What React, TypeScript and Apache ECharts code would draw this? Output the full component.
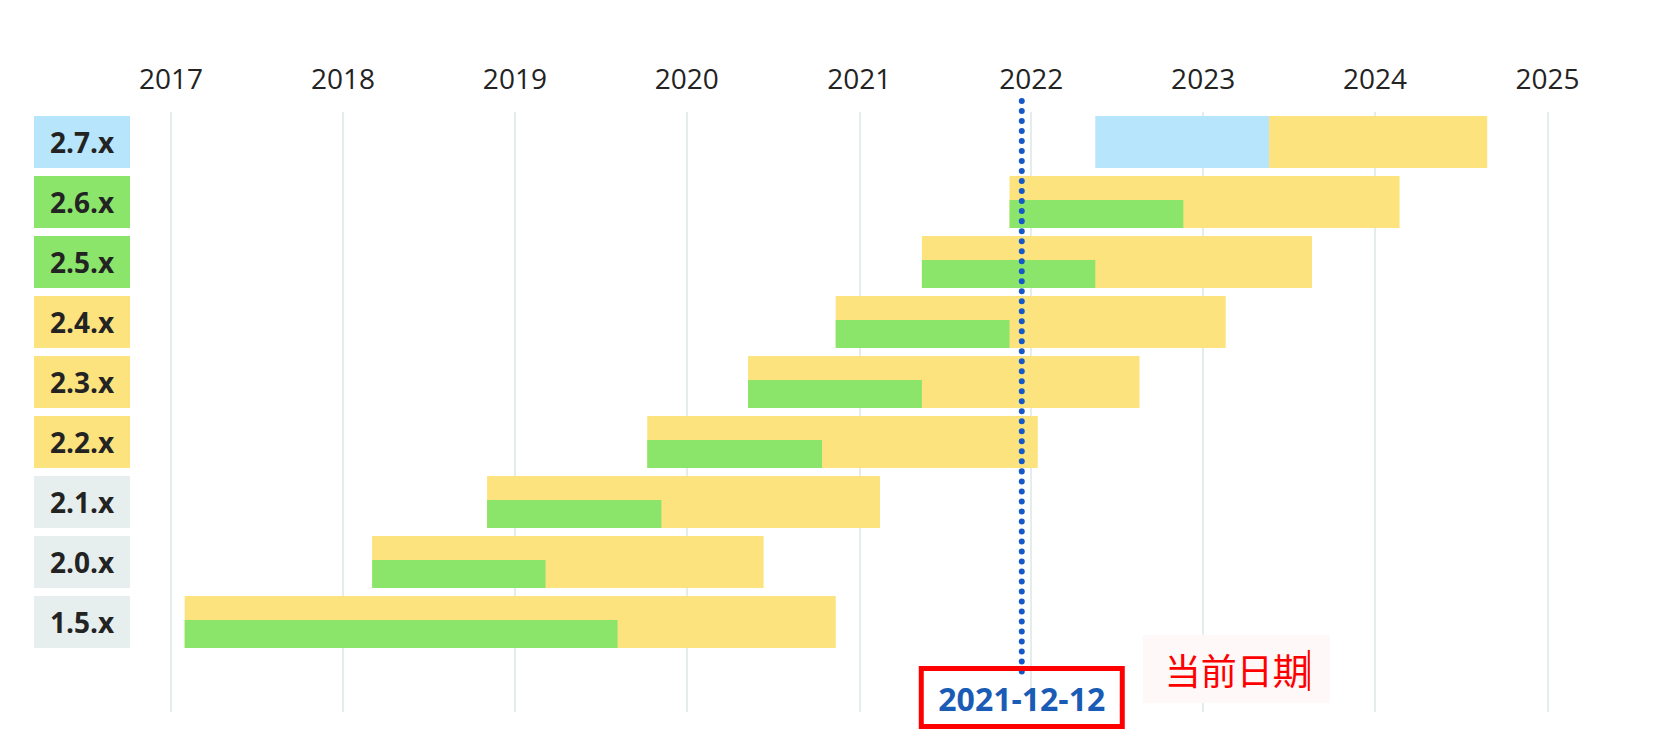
import React, { useEffect, useRef } from "react";
import * as echarts from "echarts";

// ---------- data ----------
const versions = ["2.7.x", "2.6.x", "2.5.x", "2.4.x", "2.3.x", "2.2.x", "2.1.x", "2.0.x", "1.5.x"];
const releaseDates = ["2022-05-17", "2021-11-16", "2021-05-14", "2020-11-12", "2020-05-10", "2019-10-09", "2018-11-03", "2018-03-04", "2017-01-30"];
const ossSupportEnd = ["2023-05-21", "2022-11-20", "2022-05-17", "2021-11-16", "2021-05-14", "2020-10-14", "2019-11-08", "2019-03-07", "2019-08-07"];
const commercialSupportEnd = ["2024-08-26", "2024-02-22", "2023-08-20", "2023-02-18", "2022-08-19", "2022-01-15", "2021-02-14", "2020-06-12", "2020-11-12"];
const versionStatus = ["planned", "supported", "supported", "commercial", "commercial", "commercial", "eol", "eol", "eol"];
const yearTickLabels = ["2017", "2018", "2019", "2020", "2021", "2022", "2023", "2024", "2025"];
const currentDate = "2021-12-12";
const currentDateCaption = "当前日期";

// ---------- styles ----------
const C = {
  blue: "#b7e6fc",
  green: "#8be56b",
  yellow: "#fce37e",
  gray: "#e6efee",
  grid: "#e4eded",
  text: "#232323",
  dot: "#1558c8",
  dateText: "#1a5bb5",
  red: "#ff0000",
};
const statusColor: Record<string, string> = {
  planned: C.blue,
  supported: C.green,
  commercial: C.yellow,
  eol: C.gray,
};

export default function App() {
  const ref = useRef<HTMLDivElement>(null);

  useEffect(() => {
    if (!ref.current) return;
    const chart = echarts.init(ref.current, undefined, { renderer: "svg" });
    const parse = (s: string) => {
      const [y, m, d] = s.split("-").map(Number);
      return new Date(y, m - 1, d).getTime();
    };
    const minT = parse(yearTickLabels[0] + "-01-01");
    const maxT = parse(yearTickLabels[yearTickLabels.length - 1] + "-01-01");
    const DAY = 24 * 3600 * 1000;

    const data = versions.map((v, i) => [v, parse(releaseDates[i]), parse(ossSupportEnd[i]), parse(commercialSupportEnd[i])]);

    const rich: Record<string, any> = {};
    Object.keys(statusColor).forEach((k) => {
      rich[k] = {
        backgroundColor: statusColor[k],
        width: 96,
        height: 52,
        lineHeight: 52,
        align: "center",
        verticalAlign: "middle",
        fontSize: 28,
        fontWeight: "bold",
        fontFamily: "Open Sans",
        color: C.text,
      };
    });

    chart.setOption({
      animation: false,
      grid: { left: 171, right: 110.5, top: 112, height: 600 },
      xAxis: {
        type: "time",
        position: "top",
        min: minT,
        max: maxT,
        splitNumber: 8,
        minInterval: 365 * DAY,
        maxInterval: 366 * DAY,
        axisLine: { show: false },
        axisTick: { show: false },
        axisLabel: {
          showMinLabel: true,
          showMaxLabel: true,
          margin: 20,
          fontSize: 28,
          fontFamily: "Open Sans",
          color: C.text,
          formatter: (v: number) => String(new Date(v).getFullYear()),
        },
        splitLine: { show: true, lineStyle: { color: C.grid, width: 2 } },
      },
      yAxis: {
        type: "category",
        inverse: true,
        data: [...versions, ""],
        axisLine: { show: false },
        axisTick: { show: false },
        splitLine: { show: false },
        axisLabel: {
          margin: 41,
          rich,
          formatter: (v: string) => {
            const i = versions.indexOf(v);
            return i < 0 ? "" : `{${versionStatus[i]}|${v}}`;
          },
        },
      },
      series: [
        {
          type: "custom",
          dimensions: [
            { name: "version", type: "ordinal" },
            { name: "release", type: "time" },
            { name: "oss", type: "time" },
            { name: "end", type: "time" },
          ],
          encode: { x: [1, 2, 3], y: 0 },
          data,
          renderItem: (params: any, api: any) => {
            const y = api.value(0);
            const s = api.value(1);
            const o = api.value(2);
            const e = api.value(3);
            const band = api.size([0, 1])[1];
            const h = (band * 52) / 60;
            const p0 = api.coord([s, y]);
            const pO = api.coord([o, y]);
            const pE = api.coord([e, y]);
            const top = p0[1] - h / 2;
            const status = versionStatus[params.dataIndex];
            const children: any[] = [];
            if (status === "planned") {
              children.push({ type: "rect", shape: { x: p0[0], y: top, width: pO[0] - p0[0], height: h }, style: { fill: C.blue } });
              children.push({ type: "rect", shape: { x: pO[0], y: top, width: pE[0] - pO[0], height: h }, style: { fill: C.yellow } });
            } else {
              const gTop = top + (h * 24) / 52;
              children.push({ type: "rect", shape: { x: p0[0], y: top, width: pE[0] - p0[0], height: h }, style: { fill: C.yellow } });
              children.push({ type: "rect", shape: { x: p0[0], y: gTop, width: pO[0] - p0[0], height: top + h - gTop }, style: { fill: C.green } });
            }
            return { type: "group", children };
          },
        },
      ],
    });

    const xPx = chart.convertToPixel({ xAxisIndex: 0 }, parse(currentDate)) as number;
    chart.setOption({
      graphic: [
        {
          type: "line",
          z: 100,
          shape: { x1: xPx, y1: 101, x2: xPx, y2: 678 },
          style: { stroke: C.dot, lineWidth: 6, lineDash: [0.01, 10], lineCap: "round" },
        },
        {
          type: "rect",
          z: 101,
          shape: { x: xPx - 100.5, y: 668.5, width: 201, height: 58 },
          style: { fill: "rgba(255,255,255,0)", stroke: C.red, lineWidth: 5 },
        },
        {
          type: "text",
          z: 102,
          x: xPx,
          y: 698,
          style: {
            text: currentDate,
            fill: C.dateText,
            font: "bold 32px 'Open Sans'",
            align: "center",
            verticalAlign: "middle",
          },
        },
        {
          type: "rect",
          z: 100,
          shape: { x: xPx + 121, y: 635, width: 187, height: 68 },
          style: { fill: "#fff8f8" },
        },
        {
          type: "text",
          z: 102,
          x: xPx + 143,
          y: 669,
          style: {
            text: currentDateCaption,
            fill: C.red,
            font: "36px 'Noto Sans CJK SC'",
            align: "left",
            verticalAlign: "middle",
          },
        },
        {
          type: "line",
          z: 102,
          shape: { x1: xPx + 287, y1: 650, x2: xPx + 287, y2: 691 },
          style: { stroke: C.red, lineWidth: 2 },
        },
      ],
    });

    return () => chart.dispose();
  }, []);

  return (
    <div
      ref={ref}
      style={{ position: "fixed", left: 0, top: 0, width: "1658px", height: "744px", background: "#fff" }}
    />
  );
}
